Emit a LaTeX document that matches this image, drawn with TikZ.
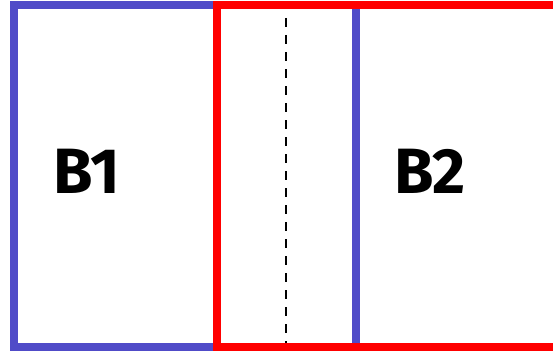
\documentclass[tikz,border=0pt]{standalone}
\usepackage{fontspec}
\setsansfont{Fira Sans}
\usetikzlibrary{positioning}
\definecolor{blockblue}{RGB}{80,75,200}
\definecolor{blockred}{RGB}{255,0,0}

\begin{document}
\begin{tikzpicture}[
    x=1pt, y=-1pt,
    block/.style={line width=8pt},
    label/.style={font=\sffamily\bfseries\fontsize{64}{64}\selectfont, inner sep=0pt},
    cut/.style={line width=2pt, dash pattern=on 9pt off 8pt}
]
\clip (0,0) rectangle (553,353);
\useasboundingbox (0,0) rectangle (553,353);
\draw[block, draw=blockblue] (14,5.5) rectangle (356,347);
\draw[cut] (286,18) -- (286,343);
\draw[block, draw=blockred] (217,5.5) rectangle (580,347);
\node[label] (b1) at (87,171) {B1};
\node[label] (b2) at (430,171) {B2};
\end{tikzpicture}
\end{document}
